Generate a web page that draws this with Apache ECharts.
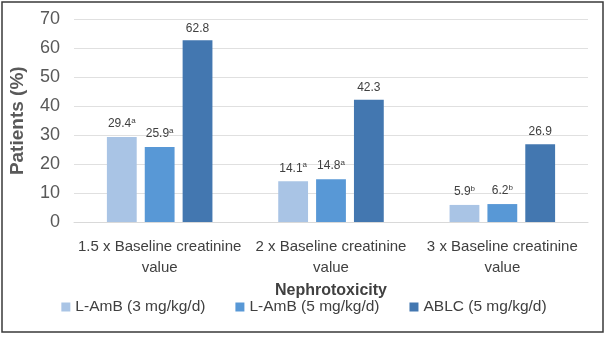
<!DOCTYPE html>
<html><head><meta charset="utf-8">
<script src="https://cdn.jsdelivr.net/npm/echarts@6/dist/echarts.min.js"></script>
<style>html,body{margin:0;padding:0;background:#fff}#c{width:608px;height:339px}</style>
</head><body><div id="c"></div>
<script>
const categories = ['1.5 x Baseline creatinine\nvalue', '2 x Baseline creatinine\nvalue', '3 x Baseline creatinine\nvalue'];
const seriesNames = ['L-AmB (3 mg/kg/d)', 'L-AmB (5 mg/kg/d)', 'ABLC (5 mg/kg/d)'];
const lamb3 = [29.4, 14.1, 5.9];
const lamb5 = [25.9, 14.8, 6.2];
const ablc5 = [62.8, 42.3, 26.9];
const lamb3Sup = ['a', 'a', 'b'];
const lamb5Sup = ['a', 'a', 'b'];
const ablc5Sup = ['', '', ''];
const yTicks = [0, 10, 20, 30, 40, 50, 60, 70];
const colors = ['#a9c4e5', '#5898d6', '#4377b0'];

function mk(name, data, sups, color) {
  return {
    name: name, type: 'bar', data: data, barWidth: '17.4%', barGap: '27%',
    itemStyle: { color: color },
    label: {
      show: true, position: 'top', distance: 6,
      formatter: p => sups[p.dataIndex] ? '{v|' + p.value + '}{s|' + sups[p.dataIndex] + '}' : '{v|' + p.value + '}',
      rich: {
        v: { fontFamily: 'Liberation Sans', fontSize: 12, color: '#404040' },
        s: { fontFamily: 'Liberation Sans', fontSize: 8, color: '#404040', verticalAlign: 'top', padding: [0, 0, 6, 0] }
      }
    }
  };
}

const chart = echarts.init(document.getElementById('c'));
chart.setOption({
  animation: false,
  grid: { left: 72, right: 20, top: 19.5, bottom: 117, containLabel: false },
  graphic: [{ type: 'rect', shape: { x: 2, y: 2, width: 601, height: 330 }, style: { fill: 'none', stroke: '#3a3a3a', lineWidth: 1.5 } }],
  legend: {
    data: seriesNames, top: 294, left: 'center', icon: 'rect', itemWidth: 9, itemHeight: 9, itemGap: 30,
    textStyle: { fontFamily: 'Liberation Sans', fontSize: 15.5, color: '#404040' }
  },
  xAxis: {
    type: 'category', data: categories,
    name: 'Nephrotoxicity', nameLocation: 'middle', nameGap: 57,
    nameTextStyle: { fontFamily: 'Liberation Sans', fontSize: 16, fontWeight: 'bold', color: '#404040' },
    axisLine: { show: true, lineStyle: { color: '#d9d9d9' } }, axisTick: { show: false },
    axisLabel: { fontFamily: 'Liberation Sans', fontSize: 15, color: '#404040', margin: 14, lineHeight: 21, interval: 0 }
  },
  yAxis: {
    type: 'value', min: yTicks[0], max: yTicks[yTicks.length - 1], interval: 10,
    name: 'Patients (%)', nameLocation: 'middle', nameGap: 47,
    nameTextStyle: { fontFamily: 'Liberation Sans', fontSize: 19, fontWeight: 'bold', color: '#595959' },
    axisLabel: { fontFamily: 'Liberation Sans', fontSize: 18, color: '#595959', margin: 14 },
    splitLine: { lineStyle: { color: '#e0e0e0' } }
  },
  series: [mk(seriesNames[0], lamb3, lamb3Sup, colors[0]), mk(seriesNames[1], lamb5, lamb5Sup, colors[1]), mk(seriesNames[2], ablc5, ablc5Sup, colors[2])]
});
</script></body></html>
